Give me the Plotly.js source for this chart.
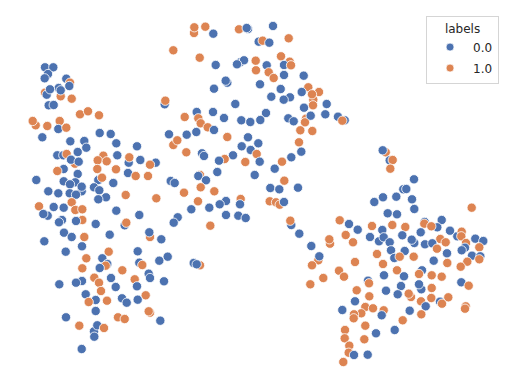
<!DOCTYPE html>
<html>
<head>
<meta charset="utf-8">
<script src="https://cdn.plot.ly/plotly-3.0.1.min.js"></script>
<style>
  html, body { margin: 0; padding: 0; background: #fff; }
  #chart { width: 515px; height: 389px; }
</style>
</head>
<body>
<div id="chart"></div>
<script>
// embedding coordinates, in drawing order
const xs = [45,53.3,48,44.7,66.3,70,69.3,58.7,45,46.7,60.7,50,60.7,71.7,48.7,53.7,80,88,99,35.7,
  32.7,47.3,59.7,58.3,66.3,42.3,99.7,110.7,169,70.3,84.3,116.3,173.3,177.3,86.3,137,77.7,57.3,63.3,66.7,
  117.3,103.3,97.7,106.7,128.7,129.3,140.3,155.7,150,75,71,78.7,63.7,57.3,97.3,116,77.7,128,135.7,148,
  36.3,98.3,102,63.7,75.3,70,113.3,170.7,174.7,94,81.7,81.7,99.3,48.3,58.3,69.7,76,125.7,106,98.3,
  156.3,71.7,39,53.7,63.7,75.3,82.3,116.3,47.7,43.3,139.3,62,59,82.3,76,95.7,177.7,173.7,124.7,126.3,
  64,71.7,84.3,109.7,150,149.3,161.3,44.3,82,65.7,108.7,137.7,167.7,86.3,102.3,159.3,107.3,105.7,139.3,142.3,
  82.3,99.7,122.3,148.7,150,94.3,99,111,134.7,164,82,76,59.3,115.7,137,101,85.7,145.7,95.7,107,
  122,126.7,137.7,88.7,95.7,150,148.7,66,118,124.7,160.3,79.3,94,94.3,97.3,104,81.7,
  194,194.3,205.3,213.3,239,248,246.7,273,258.7,262.7,269.3,288.7,173.3,199.7,215.7,240.3,244,237,255.7,281,
  289.7,266.7,284,291,256,268.7,273.7,284,303.7,227.3,225.7,260,214,280.7,308.3,301.7,319,313.3,312,271.3,
  290,283.7,164.7,165.3,235.3,313,326.7,304,196.7,213,266,184.7,224,241.3,250.3,260.3,288.3,293.7,306,305,
  310.7,325.3,338,344.7,342.3,198.3,200.7,207.7,214,300.3,312.3,186.7,196.3,248,227.3,258.3,241.7,299,
  250.7,256.7,301.3,186.3,202,204,233,291.3,224.7,219,245.3,259.7,282,274.7,217.3,254.7,200,198.3,206,284.3,
  200.7,270.3,279.3,298,214.3,184,240.7,226,198,219.7,240,269.7,276,279.7,284,209.3,191.3,226,238.3,245.7,
  291.3,290.3,339.7,349,210.3,345.7,299.3,330,329.3,311.3,318.3,319.3,312,200,193.7,196.7,339,323.3,344,
  385.7,382.7,389.7,392.7,390.3,414,403.3,406.3,383,396.3,412,374.3,414.3,471.7,387.7,397,357.7,372,392.3,405.3,
  424.7,424.3,441.7,437.3,431.3,382.3,420.7,450,370,379,383.7,402.3,414.3,411.7,440.3,445.7,457.3,461.7,461.3,475.3,
  483.3,466,353,389.7,425,432.3,479.3,465,461.7,437,391,404.7,447,377,472,480.3,479.3,394.3,399.7,413.7,
  433.7,355,383,447.3,467.3,460.7,397,422,
  310.3,419,431.7,441.7,384,404,368,369,461.3,468.7,401,421.3,419,431.7,356.7,386,397.7,411,408.7,369.3,
  431.3,448.3,355,421,440,442,425.7,465.7,465,365.3,373,342.3,361.3,383.7,409.7,354,353.7,381.7,421.3,402.7,
  365.3,345,376,394.7,344.7,364.3,349.3,348.7,354,367.7,343.3];
const ys = [67.3,67.3,74,78.3,78.7,82.7,86,88,92.7,94.7,96.3,89.3,90.3,98.7,105.3,105,114.3,111.3,115.3,125.3,
  121,126,121,129,127.7,137.3,133,134,134.3,141.3,141,143.3,145,140.3,147.7,146.3,152,155.3,155.3,154,
  155.3,155.7,160.3,161.3,162.7,157.3,160,162.7,164.7,163.7,159.7,161.7,169,171,169,169.3,174,173,176,176,
  180,180,177.7,181.3,182.3,184.3,183,181,183,187.3,191.3,186.7,190.3,191.3,193.3,193.3,194.7,195,197.3,199.3,
  198.3,202.3,206.3,207,207.7,210,209.3,210.7,215.7,214,215,220,222.3,220,221,224,217.3,222.7,225.3,222.7,
  232.7,237,237,234.7,237,232.3,239.3,241.3,246.3,251.7,251.7,251.3,256.7,258.3,258.3,260.7,264,265.7,262.7,265,
  268.3,268,270.3,273.7,278,277.7,282.7,278,279.3,281.3,281,282.7,284.3,287,286.3,291,294.3,295.3,300,300.7,
  298.3,302.7,299.7,302,311,312.7,311.3,317.3,317.3,319,320.7,325.7,331.3,336.7,325.3,328,349,
  33,27.3,26.7,33.7,29.3,29,28,26,41.7,40.7,42.7,38.3,50.3,57.7,65,62.3,60.3,64.3,60.7,56.3,
  61.7,65.3,65,65.3,70.3,72.3,78,75,75.7,82.7,80.7,84.3,88.7,89,87.3,92,92,99.7,94.3,96.7,
  97.3,99.7,104.3,100.7,104,105.3,104,107.7,112,112,113,117,118,120.3,122,120,118.3,121.3,118.7,122.3,
  115.7,114.3,116.7,120.3,120.7,118.3,123.3,127.3,130,130.3,131,134.7,132,137.3,137,143.3,146.3,142.3,
  150,154,151.7,152.3,153.3,156,155.3,157.3,159,160.7,162,161.7,161.7,168.7,172,175,175,176,180.3,180.7,
  187.3,188,189.3,187.7,191.3,192.7,199,201,201.3,204.3,204.3,201.3,202.3,204.7,202,207.7,209.3,215,215.7,218,
  225,220.7,220.3,224,225.7,235,233.7,243.7,239.3,246,260.3,256.3,265.3,265.3,263,264.3,270.7,278,276.7,
  152.3,150.3,160.3,160,168.7,179.3,189.3,189,197.3,196.7,199.3,202,209,207.7,213.3,214.3,229.7,226,225,227,
  222,223.7,220,227.3,226.3,230,232.3,230.7,237,241.3,237.3,235.3,243,239.7,239,242.3,236.3,231.7,236.3,238.7,
  241,243,242.3,242.3,244.3,243.3,247.3,247.7,250.3,248.7,250.3,251,253.3,254,255.7,256.3,259.3,258,256.7,256.7,
  260.7,262,264,263,261.7,266.7,270.3,270.3,
  284.3,274,275.3,276.7,275.3,276.3,280.7,283.3,282.3,285.7,286,289.3,284.3,288,290.3,290.7,294.3,297,293.7,296.3,
  298,297.3,301.3,301.3,301.7,303.7,306.3,306.3,308.7,307,308.3,310,313.3,310.3,310.7,314.3,318.3,315.3,314.3,320.3,
  325.7,330,333.3,330,338.3,339.3,345.7,352.7,355,354.7,362];
const labels = [0,0,0,0,0,1,0,0,1,0,1,0,0,1,0,0,1,1,1,1,
  1,1,1,0,1,0,0,0,0,0,0,0,1,1,0,0,0,0,0,1,
  0,1,1,1,0,1,0,0,1,1,0,0,0,1,1,1,0,0,1,1,
  0,0,1,0,0,0,0,0,0,0,0,0,0,0,0,0,0,1,0,0,
  1,1,1,0,0,1,1,0,0,0,0,0,0,1,0,0,0,0,0,1,
  0,0,1,0,1,0,0,0,0,0,1,0,0,1,0,0,0,1,0,1,
  1,0,1,0,0,1,1,0,1,0,0,0,0,0,0,1,0,1,0,1,
  0,0,0,1,0,1,1,0,1,1,0,1,0,0,0,1,0,
  1,1,1,0,1,0,0,0,0,1,0,1,1,1,0,0,0,0,1,1,
  1,0,0,1,1,1,1,0,0,0,0,0,0,0,1,0,1,1,1,0,
  0,0,0,1,0,1,0,0,0,0,0,1,0,0,0,0,0,0,1,1,
  0,0,0,0,1,1,1,1,0,1,1,0,0,0,1,0,0,1,
  0,1,0,1,0,0,0,0,1,0,1,0,1,0,0,0,1,0,0,1,
  1,0,0,0,1,1,1,0,1,0,0,1,1,1,0,0,0,0,0,0,
  0,1,1,0,1,1,0,1,1,0,1,0,1,1,0,0,1,1,1,
  1,0,0,1,1,0,0,0,0,0,0,0,0,1,0,0,0,1,1,1,
  0,1,0,0,1,0,0,0,0,0,0,0,0,0,1,1,0,1,1,0,
  0,1,1,0,0,0,1,0,0,1,0,0,0,1,0,0,1,0,1,1,
  0,1,1,1,1,1,1,0,
  1,1,1,1,0,0,0,1,0,1,0,0,0,1,1,0,0,1,1,1,
  1,1,0,1,0,1,0,1,1,1,1,0,1,1,0,1,1,0,1,1,
  1,1,0,0,1,1,1,1,0,0,1];
const legendNames = ['0.0', '1.0'];
const palette = ['#4c72b0', '#dd8452'];

const points = {
  type: 'scatter',
  mode: 'markers',
  x: xs,
  y: ys,
  showlegend: false,
  hoverinfo: 'skip',
  marker: {
    size: 9.3,
    color: labels.map(l => palette[l]),
    line: { color: 'rgba(255,255,255,0.9)', width: 0.9 }
  }
};

// empty traces, only here so the legend gets its two entries
// each one gets its own group, tracegroupgap then sets the row spacing
const legendTraces = legendNames.map((name, i) => ({
  type: 'scatter',
  mode: 'markers',
  x: [null],
  y: [null],
  name: name,
  legendgroup: name,
  marker: { size: 8, color: palette[i], line: { color: '#fff', width: 0.75 } }
}));

const layout = {
  width: 515,
  height: 389,
  margin: { l: 0, r: 0, t: 0, b: 0 },
  paper_bgcolor: '#fff',
  plot_bgcolor: '#fff',
  font: { family: 'DejaVu Sans', size: 12, color: '#262626' },
  xaxis: { range: [0, 515], visible: false, fixedrange: true },
  yaxis: { range: [389, 0], visible: false, fixedrange: true },
  showlegend: true,
  legend: {
    x: 0.969,
    y: 0.959,
    xanchor: 'right',
    yanchor: 'top',
    bgcolor: 'rgba(255,255,255,0.8)',
    bordercolor: '#d5d5d5',
    borderwidth: 1,
    title: { text: 'labels', side: 'top center', font: { size: 12 } },
    font: { size: 12 },
    itemwidth: 36,
    tracegroupgap: 2
  }
};

Plotly.newPlot('chart', [points].concat(legendTraces), layout, { displayModeBar: false, staticPlot: true });
</script>
</body>
</html>
